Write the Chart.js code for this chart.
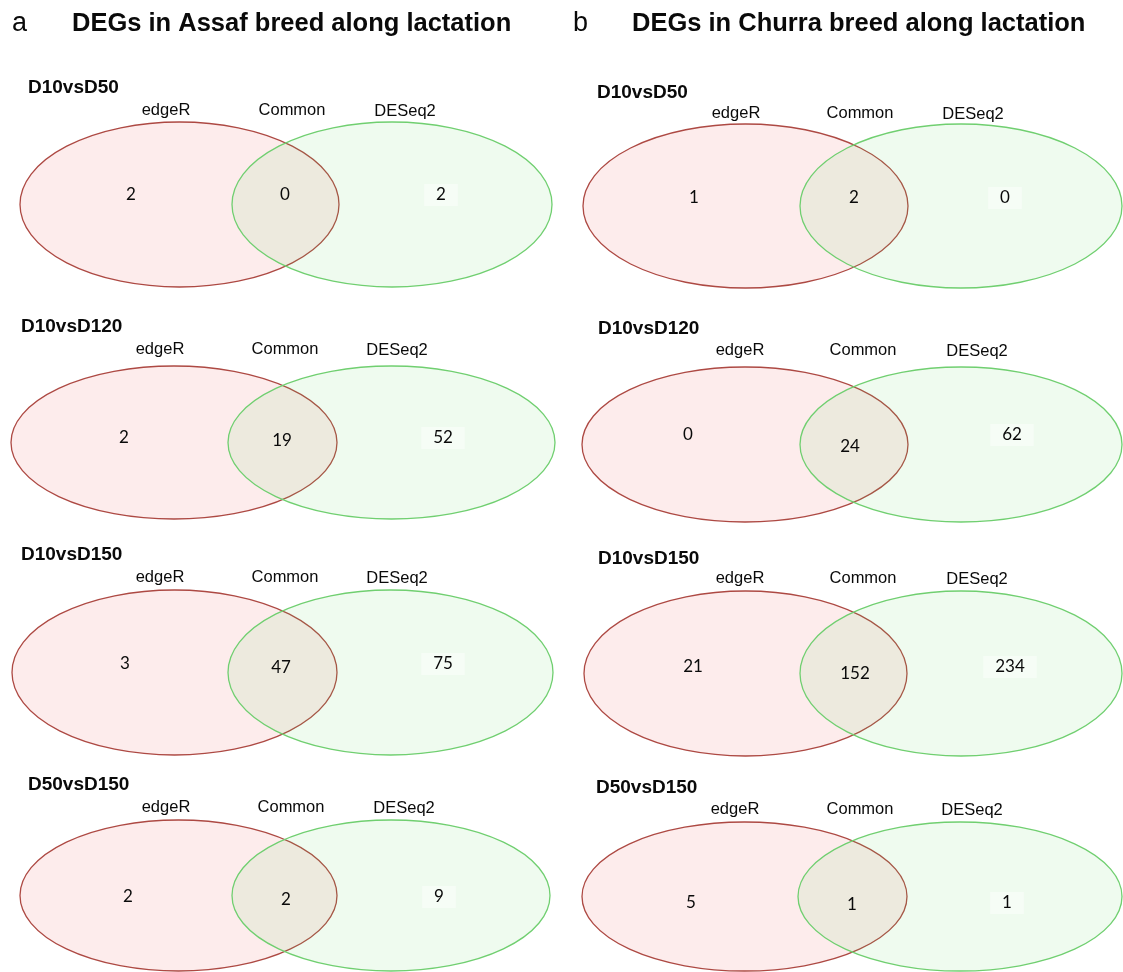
<!DOCTYPE html>
<html>
<head>
<meta charset="utf-8">
<title>DEGs along lactation</title>
<script src="https://cdn.jsdelivr.net/npm/chart.js@4/dist/chart.umd.min.js"></script>
<style>
  html, body { margin: 0; padding: 0; background: #ffffff; }
  canvas { display: block; }
</style>
</head>
<body>
<canvas id="venn" width="1123" height="972"></canvas>
<script>
// ---- Data: DEG counts per comparison (edgeR only / shared / DESeq2 only) ----
const comparisons      = ['D10vsD50', 'D10vsD120', 'D10vsD150', 'D50vsD150'];
const setNames         = ['edgeR', 'Common', 'DESeq2'];
const panelLetters     = ['a', 'b'];
const panelTitles      = ['DEGs in Assaf breed along lactation', 'DEGs in Churra breed along lactation'];
const assafEdgeROnly   = [2, 2, 3, 2];
const assafCommon      = [0, 19, 47, 2];
const assafDESeq2Only  = [2, 52, 75, 9];
const churraEdgeROnly  = [1, 0, 21, 5];
const churraCommon     = [2, 24, 152, 1];
const churraDESeq2Only = [0, 62, 234, 1];

const breedCounts = [
  [assafEdgeROnly, assafCommon, assafDESeq2Only],
  [churraEdgeROnly, churraCommon, churraDESeq2Only]
];

// ---- Layout of each panel, in canvas units (x: 0..1123, y: 0..972 top-down) ----
const layout = [
  { // panel a
    letterX: 12, titleX: 72, titleY: 31,
    nameX:   [28, 21, 21, 28],
    nameY:   [88, 327, 555, 785],
    setX:    [[166, 292, 405], [160, 285, 397], [160, 285, 397], [166, 291, 404]],
    setY:    [110, 349, 577, 807],
    top:     [122, 366, 590, 820],
    bottom:  [287, 519, 755, 971],
    redX:    [[20, 339], [11, 337], [12, 337], [20, 337]],
    greenX:  [[232, 552], [228, 555], [228, 553], [232, 550]],
    numX:    [[131, 285, 441], [124, 282, 443], [125, 281, 443], [128, 286, 439]],
    numY:    [[195, 195, 195], [438, 441, 438], [664, 668, 664], [897, 900, 897]]
  },
  { // panel b
    letterX: 573, titleX: 632, titleY: 31,
    nameX:   [597, 598, 598, 596],
    nameY:   [93, 329, 559, 788],
    setX:    [[736, 860, 973], [740, 863, 977], [740, 863, 977], [735, 860, 972]],
    setY:    [113, 350, 578, 809],
    top:     [124, 367, 591, 822],
    bottom:  [288, 522, 756, 971],
    redX:    [[583, 908], [582, 908], [584, 907], [582, 907]],
    greenX:  [[800, 1122], [800, 1122], [800, 1122], [798, 1122]],
    numX:    [[694, 854, 1005], [688, 850, 1012], [693, 855, 1010], [691, 852, 1007]],
    numY:    [[198, 198, 198], [435, 447, 435], [667, 674, 667], [903, 905, 903]]
  }
];

// ---- Styles ----
const style = {
  redFill: 'rgba(238, 105, 105, 0.13)',
  redStroke: '#ad4943',
  greenFill: 'rgba(95, 215, 95, 0.10)',
  greenStroke: '#70cf70',
  text: '#0a0a0a',
  letterFont: '27px "Liberation Sans", Arial, sans-serif',
  titleFont: 'bold 25.5px "Liberation Sans", Arial, sans-serif',
  nameFont: 'bold 19px "Liberation Sans", Arial, sans-serif',
  setFont: '16.5px "Liberation Sans", Arial, sans-serif',
  numFont: '17px Lato, "Open Sans", sans-serif'
};

// One scatter dataset per breed and region; each point carries its count.
const datasets = [];
breedCounts.forEach((regions, p) => {
  regions.forEach((counts, r) => {
    datasets.push({
      label: panelLetters[p] + ' ' + setNames[r],
      panel: p,
      region: r,
      data: counts.map((n, row) => ({ x: layout[p].numX[row][r], y: layout[p].numY[row][r], n: n })),
      pointRadius: 0,
      pointHoverRadius: 0
    });
  });
});

// Draws the two-set ellipses for each comparison using the chart's scales.
const vennEllipses = {
  id: 'vennEllipses',
  beforeDatasetsDraw(chart) {
    const { ctx, scales: { x, y } } = chart;
    const ellipse = (x0, x1, y0, y1, fill, stroke) => {
      const px0 = x.getPixelForValue(x0), px1 = x.getPixelForValue(x1);
      const py0 = y.getPixelForValue(y0), py1 = y.getPixelForValue(y1);
      ctx.beginPath();
      ctx.ellipse((px0 + px1) / 2, (py0 + py1) / 2, Math.abs(px1 - px0) / 2, Math.abs(py1 - py0) / 2, 0, 0, Math.PI * 2);
      ctx.fillStyle = fill;
      ctx.fill();
      ctx.lineWidth = 1.3;
      ctx.strokeStyle = stroke;
      ctx.stroke();
    };
    ctx.save();
    layout.forEach(L => {
      comparisons.forEach((c, row) => {
        ellipse(L.redX[row][0], L.redX[row][1], L.top[row], L.bottom[row], style.redFill, style.redStroke);
        ellipse(L.greenX[row][0], L.greenX[row][1], L.top[row], L.bottom[row], style.greenFill, style.greenStroke);
      });
    });
    ctx.restore();
  },
  afterDatasetsDraw(chart) {
    const { ctx, scales: { x, y } } = chart;
    ctx.save();
    ctx.fillStyle = style.text;

    layout.forEach((L, p) => {
      // panel letter and heading
      ctx.textBaseline = 'alphabetic';
      ctx.textAlign = 'left';
      ctx.font = style.letterFont;
      ctx.fillText(panelLetters[p], x.getPixelForValue(L.letterX), y.getPixelForValue(L.titleY));
      ctx.font = style.titleFont;
      ctx.fillText(panelTitles[p], x.getPixelForValue(L.titleX), y.getPixelForValue(L.titleY));

      comparisons.forEach((c, row) => {
        ctx.textBaseline = 'middle';
        ctx.textAlign = 'left';
        ctx.font = style.nameFont;
        ctx.fillText(c, x.getPixelForValue(L.nameX[row]), y.getPixelForValue(L.nameY[row]));
        ctx.textAlign = 'center';
        ctx.font = style.setFont;
        setNames.forEach((s, r) => {
          ctx.fillText(s, x.getPixelForValue(L.setX[row][r]), y.getPixelForValue(L.setY[row] + (r === 2 ? 1 : 0)));
        });
      });
    });

    // region counts, taken from each dataset point
    chart.data.datasets.forEach((ds, i) => {
      const meta = chart.getDatasetMeta(i);
      meta.data.forEach((pt, j) => {
        const label = String(ds.data[j].n);
        ctx.font = style.numFont;
        if (ds.region === 2) {
          const w = ctx.measureText(label).width + 24;
          ctx.fillStyle = 'rgba(255,255,255,0.4)';
          ctx.fillRect(pt.x - w / 2, pt.y - 11, w, 22);
        }
        ctx.fillStyle = style.text;
        ctx.textAlign = 'center';
        ctx.textBaseline = 'middle';
        ctx.fillText(label, pt.x, pt.y);
      });
    });
    ctx.restore();
  }
};

function drawChart() {
  new Chart(document.getElementById('venn'), {
    type: 'scatter',
    data: { datasets },
    options: {
      responsive: false,
      animation: false,
      events: [],
      layout: { padding: 0 },
      plugins: { legend: { display: false }, tooltip: { enabled: false } },
      scales: {
        x: { type: 'linear', min: 0, max: 1123, display: false },
        y: { type: 'linear', min: 0, max: 972, reverse: true, display: false }
      }
    },
    plugins: [vennEllipses]
  });
}

const fontLoads = [style.letterFont, style.titleFont, style.nameFont, style.setFont, style.numFont]
  .map(f => document.fonts.load(f).catch(() => null));
Promise.all(fontLoads).then(drawChart, drawChart);
</script>
</body>
</html>
